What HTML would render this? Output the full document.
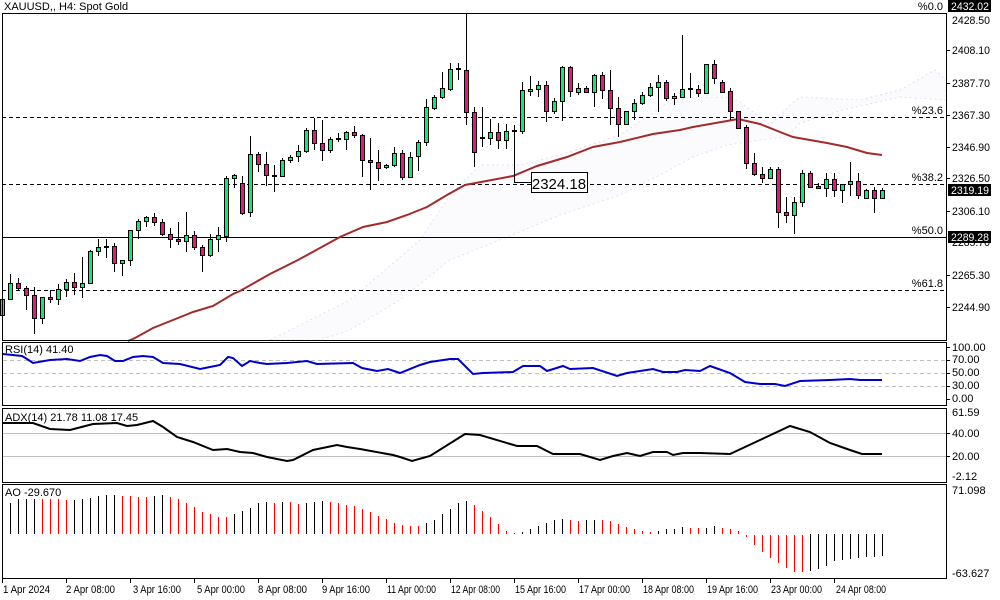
<!DOCTYPE html>
<html><head><meta charset="utf-8"><style>
html,body{margin:0;padding:0;background:#fff;width:1000px;height:600px;overflow:hidden}
svg{display:block;font-family:"Liberation Sans",sans-serif;font-size:11px}
</style></head><body>
<svg width="1000" height="600" viewBox="0 0 1000 600" xmlns="http://www.w3.org/2000/svg">
<rect width="1000" height="600" fill="#fff"/>
<!-- cloud -->
<polygon points="270,340 350,300 420,240 450,195 480,165 520,165 560,155 620,135 660,108 673,98 727,97 740,102 770,125 790,105 800,97 860,100 900,90 935,70 946,80 946,100 900,97 843,110 800,123 787,137 760,140 727,145 693,157 660,175 620,195 560,215 500,240 450,260 400,300 350,330 320,340" fill="rgba(225,225,250,0.12)" stroke="#e0e0f6" stroke-dasharray="2,3" stroke-width="1"/>
<!-- fib lines -->
<g stroke="#000" stroke-width="1">
<path d="M2 117.5H946M2 184.5H946M2 290.5H946" stroke-dasharray="4,3"/>
<path d="M2 237.5H946"/>
</g>
<g font-size="11" text-anchor="end" fill="#000">
<text x="943" y="10">%0.0</text><text x="943" y="114">%23.6</text><text x="943" y="181">%38.2</text><text x="943" y="234">%50.0</text><text x="943" y="287">%61.8</text>
</g>
<!-- MA -->
<polyline fill="none" stroke="#a52a2a" stroke-width="2" points="128,341 135,338 153,328 173,320 193,312 213,306 233,294 240,291 270,274 298,260 340,237 363,227 387,222 407,215 427,207 447,195 465,185 513,176 537,166 567,157 593,147 620,142 653,134 680,130 693,127 727,121 738,119 760,124 780,132 793,137 827,143 847,147 867,153 882,155"/>
<!-- wicks -->
<path fill="none" stroke="#000" stroke-width="1" d="M2.5 290V318M10.5 274V299M18.5 278V290M26.5 286V310M34.5 287V334M42.5 297V324M50.5 290V303M58.5 284V305M66.5 279V297M74.5 273V295M82.5 257V298M90.5 250V284M98.5 239V256M106.5 239V258M114.5 243V272M122.5 260V276M130.5 230V266M138.5 219V239M146.5 216V227M154.5 213V226M162.5 219V236M170.5 228V248M178.5 222V245M186.5 212V252M194.5 231V250M202.5 245V272M210.5 234V257M218.5 227V252M226.5 176V242M234.5 174V188M242.5 176V215M250.5 136V217M258.5 152V172M266.5 152V186M274.5 165V192M282.5 158V177M290.5 155V163M298.5 145V162M306.5 128V153M314.5 118V150M322.5 120V161M330.5 137V153M338.5 133V142M346.5 131V150M354.5 126V138M362.5 134V177M370.5 138V190M378.5 150V181M386.5 164V169M394.5 147V167M402.5 150V180M410.5 152V178M418.5 140V171M426.5 99V146M434.5 95V110M442.5 72V99M450.5 63V91M458.5 63V80M466.5 13V125M474.5 107V167M482.5 107V147M490.5 119V145M498.5 123V149M506.5 124V149M514.5 125V142M522.5 82V134M530.5 76V96M538.5 81V97M546.5 81V122M554.5 98V114M562.5 66V121M570.5 66V97M578.5 83V95M586.5 86V93M594.5 74V107M602.5 72V99M610.5 70V125M618.5 97V137M626.5 111V125M634.5 99V120M642.5 92V105M650.5 83V97M658.5 75V112M666.5 80V101M674.5 93V105M682.5 35V98M690.5 73V98M698.5 85V97M706.5 64V93M714.5 60V84M722.5 80V93M730.5 88V120M738.5 111V129M746.5 125V169M754.5 153V176M762.5 167V183M770.5 167V178M778.5 167V228M786.5 197V223M794.5 197V234M802.5 170V207M810.5 171V188M818.5 183V189M826.5 173V197M834.5 173V197M842.5 184V203M850.5 162V196M858.5 173V199M866.5 189V198M874.5 187V213M882.5 188V199"/>
<!-- green bodies -->
<path fill="#00f07a" stroke="#000" stroke-width="1" d="M0.5 299.5h4v16h-4zM8.5 283.5h4v16h-4zM40.5 297.5h4v21h-4zM56.5 289.5h4v10h-4zM64.5 282.5h4v7h-4zM80.5 283.5h4v4h-4zM88.5 251.5h4v32h-4zM96.5 247.5h4v4h-4zM120.5 260.5h4v3h-4zM128.5 230.5h4v30h-4zM136.5 221.5h4v9h-4zM144.5 217.5h4v4h-4zM184.5 235.5h4v6h-4zM208.5 239.5h4v16h-4zM216.5 235.5h4v4h-4zM224.5 178.5h4v58h-4zM232.5 175.5h4v3h-4zM248.5 154.5h4v58h-4zM280.5 160.5h4v16h-4zM288.5 157.5h4v3h-4zM296.5 151.5h4v5h-4zM304.5 130.5h4v21h-4zM328.5 139.5h4v11h-4zM344.5 132.5h4v7h-4zM384.5 165.5h4v2h-4zM392.5 153.5h4v12h-4zM408.5 157.5h4v20h-4zM416.5 142.5h4v14h-4zM424.5 107.5h4v35h-4zM432.5 97.5h4v11h-4zM440.5 88.5h4v9h-4zM448.5 69.5h4v20h-4zM488.5 132.5h4v6h-4zM504.5 131.5h4v9h-4zM520.5 90.5h4v41h-4zM528.5 89.5h4v2h-4zM536.5 85.5h4v4h-4zM552.5 101.5h4v10h-4zM560.5 67.5h4v34h-4zM576.5 88.5h4v4h-4zM592.5 75.5h4v17h-4zM624.5 111.5h4v13h-4zM632.5 103.5h4v8h-4zM640.5 95.5h4v8h-4zM648.5 87.5h4v8h-4zM656.5 82.5h4v5h-4zM672.5 96.5h4v2h-4zM680.5 89.5h4v8h-4zM704.5 64.5h4v29h-4zM768.5 169.5h4v9h-4zM792.5 202.5h4v13h-4zM800.5 173.5h4v29h-4zM824.5 179.5h4v9h-4zM840.5 184.5h4v6h-4zM848.5 181.5h4v3h-4zM864.5 190.5h4v8h-4zM880.5 190.5h4v8h-4z"/>
<!-- red bodies -->
<path fill="#ec1480" stroke="#000" stroke-width="1" d="M16.5 283.5h4v5h-4zM24.5 288.5h4v7h-4zM32.5 295.5h4v23h-4zM48.5 297.5h4v2h-4zM72.5 282.5h4v5h-4zM112.5 246.5h4v17h-4zM152.5 217.5h4v5h-4zM160.5 222.5h4v12h-4zM168.5 234.5h4v5h-4zM176.5 239.5h4v2h-4zM192.5 235.5h4v12h-4zM200.5 247.5h4v8h-4zM240.5 183.5h4v30h-4zM256.5 154.5h4v10h-4zM264.5 164.5h4v11h-4zM312.5 130.5h4v13h-4zM320.5 143.5h4v7h-4zM352.5 132.5h4v3h-4zM360.5 135.5h4v25h-4zM368.5 160.5h4v2h-4zM376.5 162.5h4v6h-4zM400.5 153.5h4v24h-4zM464.5 70.5h4v42h-4zM472.5 112.5h4v40h-4zM496.5 132.5h4v8h-4zM544.5 85.5h4v26h-4zM568.5 67.5h4v24h-4zM584.5 88.5h4v4h-4zM600.5 75.5h4v15h-4zM608.5 90.5h4v18h-4zM616.5 108.5h4v16h-4zM664.5 82.5h4v16h-4zM696.5 89.5h4v4h-4zM712.5 64.5h4v14h-4zM720.5 82.5h4v10h-4zM728.5 91.5h4v20h-4zM736.5 111.5h4v17h-4zM744.5 127.5h4v36h-4zM752.5 163.5h4v11h-4zM760.5 174.5h4v4h-4zM776.5 169.5h4v43h-4zM784.5 212.5h4v3h-4zM808.5 173.5h4v14h-4zM816.5 186.5h4v2h-4zM832.5 179.5h4v11h-4zM856.5 181.5h4v14h-4zM872.5 190.5h4v8h-4z"/>
<path fill="none" stroke="#000" stroke-width="2" d="M104 247h5M272 176h5M336 139h5M456 69h5M480 138h5M512 131h5M688 89h5"/>
<!-- callout -->
<path d="M514.5 142V182.5H531" fill="none" stroke="#000"/>
<rect x="531.5" y="172.5" width="56" height="20" fill="#fff" stroke="#000"/>
<text x="559" y="189" font-size="15" text-anchor="middle">2324.18</text>
<!-- title -->
<text x="4" y="10">XAUUSD,, H4:  Spot Gold</text>
<!-- panels frames -->
<g fill="none" stroke="#000" stroke-width="1">
<rect x="2.5" y="13.5" width="944" height="327"/>
<rect x="2.5" y="342.5" width="944" height="63"/>
<rect x="2.5" y="408.5" width="944" height="74"/>
<rect x="2.5" y="484.5" width="944" height="94"/>
</g>
<!-- RSI -->
<path d="M3 360.5H946M3 373.5H946M3 386.5H946" stroke="#c0c0c0" stroke-dasharray="4,3"/>
<polyline fill="none" stroke="#0000cc" stroke-width="2" points="3,354 22,356 27,359 33,363 50,360 67,359 80,361 90,357 100,355 107,356 115,361 123,361 133,357 143,356 153,357 163,363 180,364 200,369 210,367 220,365 228,357 233,358 242,366 250,361 260,363 267,364 287,363 307,361 317,364 353,363 362,368 377,371 388,369 400,373 420,365 430,362 450,359 458,359 473,374 483,373 513,372 523,366 540,366 547,371 563,366 570,369 593,368 617,376 627,373 653,369 663,372 677,372 685,370 700,371 710,366 730,373 745,382 760,384 775,384 785,386 800,381 830,380 850,379 860,380 882,380"/>
<text x="5" y="353">RSI(14) 41.40</text>
<!-- ADX -->
<path d="M3 433.5H946M3 456.5H946" stroke="#c0c0c0"/>
<polyline fill="none" stroke="#000" stroke-width="2" points="3,423 33,423 50,429 70,430 93,424 117,423 127,426 137,425 153,421 163,427 177,437 193,442 213,450 227,449 240,452 253,453 267,457 287,461 293,460 313,450 337,445 347,447 360,449 393,455 400,457 412,461 430,456 465,434 480,435 517,446 537,446 553,454 580,454 600,460 613,456 627,453 640,456 653,452 667,452 673,455 683,453 700,453 730,454 760,440 790,426 810,432 830,443 850,450 862,454 882,454"/>
<text x="5" y="421">ADX(14) 21.78 11.08 17.45</text>
<!-- AO -->
<path fill="none" stroke="#000" d="M10.5 534V503M18.5 534V499M26.5 534V499M34.5 534V499M74.5 534V500M82.5 534V499M90.5 534V498M98.5 534V496M106.5 534V495M114.5 534V495M154.5 534V496M162.5 534V495M234.5 534V514M242.5 534V511M250.5 534V508M258.5 534V503M266.5 534V502M282.5 534V502M306.5 534V503M314.5 534V502M322.5 534V501M426.5 534V523M434.5 534V520M442.5 534V514M450.5 534V509M458.5 534V503M466.5 534V501M522.5 534V532M530.5 534V529M538.5 534V526M546.5 534V523M554.5 534V520M562.5 534V519M586.5 534V520M594.5 534V520M658.5 534V531M666.5 534V529M674.5 534V529M682.5 534V527M706.5 534V528M714.5 534V526M810.5 534V571M818.5 534V569M826.5 534V566M834.5 534V561M842.5 534V560M850.5 534V559M858.5 534V558M866.5 534V557M874.5 534V557M882.5 534V556"/>
<path fill="none" stroke="#ff0000" d="M42.5 534V499M50.5 534V499M58.5 534V499M66.5 534V500M122.5 534V496M130.5 534V496M138.5 534V497M146.5 534V497M170.5 534V497M178.5 534V499M186.5 534V503M194.5 534V507M202.5 534V512M210.5 534V514M218.5 534V517M226.5 534V517M274.5 534V503M290.5 534V502M298.5 534V504M330.5 534V502M338.5 534V503M346.5 534V505M354.5 534V506M362.5 534V509M370.5 534V512M378.5 534V516M386.5 534V519M394.5 534V523M402.5 534V525M410.5 534V526M418.5 534V526M474.5 534V505M482.5 534V511M490.5 534V517M498.5 534V524M506.5 534V531M514.5 534V533M570.5 534V520M578.5 534V521M602.5 534V520M610.5 534V521M618.5 534V524M626.5 534V527M634.5 534V529M642.5 534V531M650.5 534V532M690.5 534V528M698.5 534V528M722.5 534V528M730.5 534V529M738.5 534V531M746.5 535V537M754.5 535V545M762.5 535V552M770.5 535V558M778.5 535V563M786.5 535V568M794.5 535V572M802.5 535V572"/>
<text x="5" y="496">AO -29.670</text>
<!-- right axis ticks -->
<path stroke="#000" d="M946 50.5h4M946 83.5h4M946 115.5h4M946 147.5h4M946 178.5h4M946 211.5h4M946 275.5h4M946 307.5h4M946 347.5h4M946 360.5h4M946 373.5h4M946 386.5h4M946 399.5h4M946 433.5h4M946 456.5h4"/>
<g fill="#000">
<text x="952" y="24" textLength="38" lengthAdjust="spacingAndGlyphs">2428.50</text>
<text x="952" y="54" textLength="38" lengthAdjust="spacingAndGlyphs">2408.10</text>
<text x="952" y="87" textLength="38" lengthAdjust="spacingAndGlyphs">2387.70</text>
<text x="952" y="119" textLength="38" lengthAdjust="spacingAndGlyphs">2367.30</text>
<text x="952" y="151" textLength="38" lengthAdjust="spacingAndGlyphs">2346.90</text>
<text x="952" y="182" textLength="38" lengthAdjust="spacingAndGlyphs">2326.50</text>
<text x="952" y="215" textLength="38" lengthAdjust="spacingAndGlyphs">2306.10</text>
<text x="952" y="246" textLength="38" lengthAdjust="spacingAndGlyphs">2285.70</text>
<text x="952" y="279" textLength="38" lengthAdjust="spacingAndGlyphs">2265.30</text>
<text x="952" y="311" textLength="38" lengthAdjust="spacingAndGlyphs">2244.90</text>
<text x="952" y="351">100.00</text>
<text x="952" y="363">70.00</text>
<text x="952" y="376">50.00</text>
<text x="952" y="389">30.00</text>
<text x="952" y="402">0.00</text>
<text x="952" y="416">61.59</text>
<text x="952" y="437">40.00</text>
<text x="952" y="460">20.00</text>
<text x="952" y="480">-2.12</text>
<text x="952" y="494">71.098</text>
<text x="952" y="577">-63.627</text>
</g>
<rect x="948" y="0" width="43" height="12" fill="#000"/>
<text x="951" y="10" fill="#fff" textLength="38" lengthAdjust="spacingAndGlyphs">2432.02</text>
<rect x="948" y="184" width="43" height="12" fill="#000"/>
<text x="951" y="194" fill="#fff" textLength="38" lengthAdjust="spacingAndGlyphs">2319.19</text>
<rect x="948" y="231" width="43" height="12" fill="#000"/>
<text x="951" y="241" fill="#fff" textLength="38" lengthAdjust="spacingAndGlyphs">2289.28</text>
<!-- date axis -->
<path stroke="#000" d="M2.5 579v4M66.5 579v4M130.5 579v4M194.5 579v4M258.5 579v4M322.5 579v4M386.5 579v4M450.5 579v4M514.5 579v4M578.5 579v4M642.5 579v4M706.5 579v4M770.5 579v4M834.5 579v4"/>
<g fill="#000" lengthAdjust="spacingAndGlyphs">
<text x="3" y="593" textLength="47" lengthAdjust="spacingAndGlyphs">1 Apr 2024</text>
<text x="66" y="593" textLength="49" lengthAdjust="spacingAndGlyphs">2 Apr 08:00</text>
<text x="133" y="593" textLength="48" lengthAdjust="spacingAndGlyphs">3 Apr 16:00</text>
<text x="197" y="593" textLength="48" lengthAdjust="spacingAndGlyphs">5 Apr 00:00</text>
<text x="258" y="593" textLength="49" lengthAdjust="spacingAndGlyphs">8 Apr 08:00</text>
<text x="322" y="593" textLength="48" lengthAdjust="spacingAndGlyphs">9 Apr 16:00</text>
<text x="387" y="593" textLength="49" lengthAdjust="spacingAndGlyphs">11 Apr 00:00</text>
<text x="451" y="593" textLength="49" lengthAdjust="spacingAndGlyphs">12 Apr 08:00</text>
<text x="515" y="593" textLength="51" lengthAdjust="spacingAndGlyphs">15 Apr 16:00</text>
<text x="579" y="593" textLength="51" lengthAdjust="spacingAndGlyphs">17 Apr 00:00</text>
<text x="643" y="593" textLength="51" lengthAdjust="spacingAndGlyphs">18 Apr 08:00</text>
<text x="707" y="593" textLength="51" lengthAdjust="spacingAndGlyphs">19 Apr 16:00</text>
<text x="771" y="593" textLength="51" lengthAdjust="spacingAndGlyphs">23 Apr 00:00</text>
<text x="836" y="593" textLength="50" lengthAdjust="spacingAndGlyphs">24 Apr 08:00</text>
</g>
</svg>
</body></html>
